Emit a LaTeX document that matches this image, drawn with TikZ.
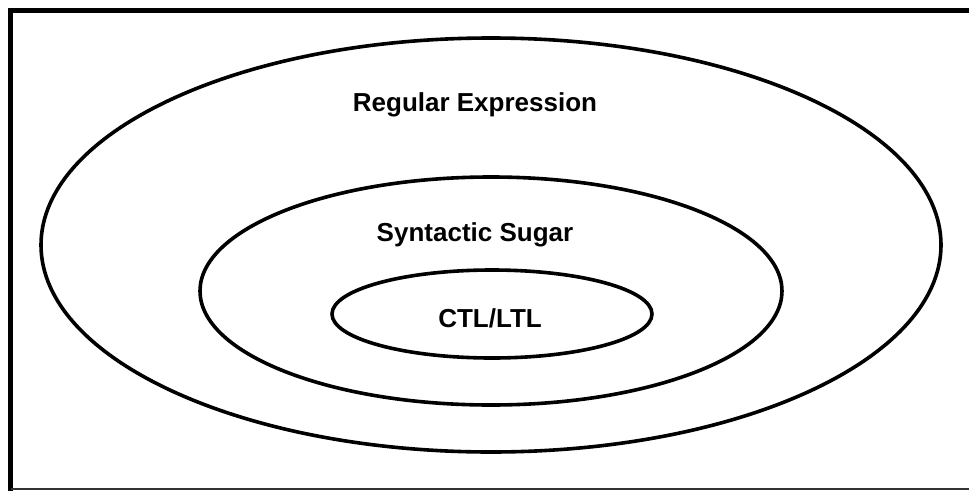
\documentclass[tikz,border=0pt]{standalone}
\usepackage{fontspec}
\setmainfont{Liberation Sans}
\usetikzlibrary{shapes.geometric}
\begin{document}
\begin{tikzpicture}[x=1pt,y=-1pt,
  ring/.style={draw=black, line width=3.6pt, ellipse, inner sep=0pt},
  lbl/.style={font=\fontsize{26}{30}\selectfont\bfseries, inner sep=0pt, anchor=base}]
\useasboundingbox (0,0) rectangle (969,490);
\clip (0,0) rectangle (969,490);
\fill[white] (0,0) rectangle (969,490);
\draw[line width=4.5pt] (10.5,10.5) -- (975,10.5);
\draw[line width=4.5pt] (10.5,8) -- (10.5,495);
\draw[line width=2.5pt, black!80] (10.5,489) -- (975,489);
\node[ring, minimum width=900pt, minimum height=414pt] (outer) at (491,245) {};
\node[ring, minimum width=582pt, minimum height=228pt] (middle) at (491,291) {};
\node[ring, minimum width=320pt, minimum height=88pt] (inner) at (492,314) {};
\node[lbl] (re) at (475,111) {Regular Expression};
\node[lbl] (ss) at (475,241) {Syntactic Sugar};
\node[lbl] (ctl) at (490,327) {CTL/LTL};
\end{tikzpicture}
\end{document}
